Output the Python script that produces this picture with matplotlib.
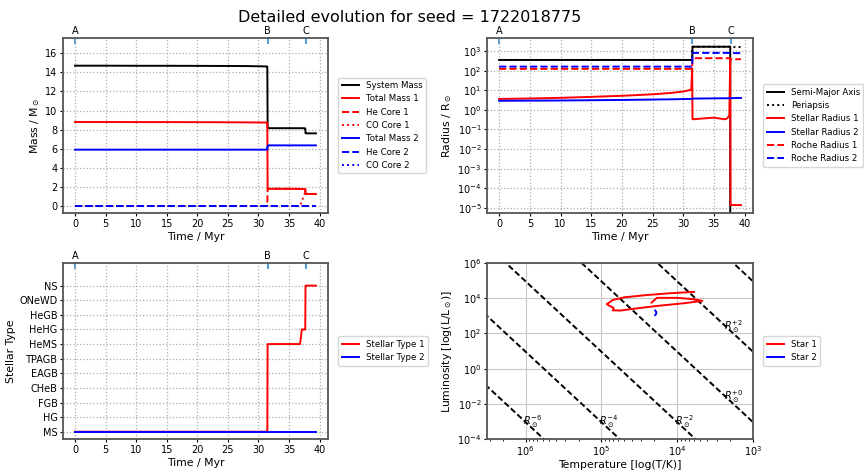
import numpy as np
import matplotlib
matplotlib.use("Agg")
import matplotlib.pyplot as plt

seed = 1722018775
event_times = [0.0, 31.5, 37.7]
event_labels = ["A", "B", "C"]

# shared time samples (Myr)
time = [0, 5, 10, 15, 20, 25, 28, 30, 31.3, 31.45, 31.5, 31.6, 33, 35,
        36.8, 37.1, 37.5, 37.65, 37.7, 37.75, 38.5, 39.4]

system_mass = [14.70, 14.70, 14.69, 14.69, 14.68, 14.67, 14.66, 14.64, 14.62, 14.60, 8.20,
               8.15, 8.15, 8.15, 8.15, 8.15, 8.14, 8.13, 7.62, 7.61, 7.61, 7.61]
mass_1 = [8.80, 8.80, 8.79, 8.79, 8.78, 8.77, 8.76, 8.75, 8.74, 8.72, 1.85,
          1.80, 1.80, 1.80, 1.79, 1.78, 1.77, 1.76, 1.27, 1.26, 1.26, 1.26]
he_core_1 = [0, 0, 0, 0, 0, 0, 0, 0, 0, 0, 1.85,
             1.80, 1.80, 1.80, 1.79, 1.78, 1.77, 1.76, 1.27, 1.26, 1.26, 1.26]
co_core_1 = [0, 0, 0, 0, 0, 0, 0, 0, 0, 0, 0,
             0, 0, 0, 0, 0.5, 1.2, 1.4, 1.27, 1.26, 1.26, 1.26]
mass_2 = [5.90, 5.90, 5.90, 5.90, 5.90, 5.90, 5.90, 5.90, 5.90, 5.91, 6.30,
          6.35, 6.35, 6.35, 6.35, 6.35, 6.35, 6.35, 6.35, 6.35, 6.35, 6.35]
he_core_2 = [0.0] * 22
co_core_2 = [0.0] * 22

semi_major = [350, 350, 350, 350, 350, 350, 350, 350, 350, 350, 1650,
              1650, 1650, 1650, 1650, 1650, 1650, 1650, -1900, -1900, -1900, -1900]
periapsis = [350, 350, 350, 350, 350, 350, 350, 350, 350, 350, 1650,
             1650, 1650, 1650, 1650, 1650, 1650, 1650, 1600, 1600, 1600, 1600]
radius_1 = [3.6, 3.8, 4.1, 4.6, 5.2, 6.2, 7.3, 8.6, 10.5, 130, 0.34,
            0.33, 0.36, 0.40, 0.33, 0.36, 0.5, 420, 1.4e-5, 1.4e-5, 1.4e-5, 1.4e-5]
radius_2 = [2.9, 2.95, 3.0, 3.1, 3.2, 3.35, 3.45, 3.55, 3.6, 3.62, 3.7,
            3.75, 3.8, 3.85, 3.9, 3.9, 3.92, 3.95, 3.95, 3.95, 4.0, 4.05]
roche_1 = [123, 123, 123, 123, 123, 123, 123, 123, 123, 123, 430,
           430, 430, 430, 430, 430, 430, 430, 380, 380, 380, 380]
roche_2 = [160, 160, 160, 160, 160, 160, 160, 160, 160, 160, 800,
           800, 800, 800, 800, 800, 800, 800, 780, 780, 780, 780]

type_names = ["MS", "HG", "FGB", "CHeB", "EAGB", "TPAGB", "HeMS", "HeHG", "HeGB", "ONeWD", "NS"]
stellar_type_1 = [0, 0, 0, 0, 0, 0, 0, 0, 0, 0, 6,
                  6, 6, 6, 6, 7, 7, 7, 10, 10, 10, 10]
stellar_type_2 = [0] * 22

# HR tracks, log10 values
star1_logT = [4.34, 4.30, 4.27, 4.00, 3.80, 3.67, 3.90, 4.27, 4.50, 4.75, 4.85,
              4.84, 4.90, 4.93, 4.85, 4.70, 4.40, 4.10, 3.78]
star1_logL = [3.75, 3.90, 4.02, 4.02, 3.95, 3.85, 3.72, 3.56, 3.44, 3.30, 3.31,
              3.45, 3.58, 3.66, 3.90, 4.05, 4.18, 4.28, 4.36]
star2_logT = [4.292, 4.280, 4.276, 4.280, 4.292]
star2_logL = [3.04, 3.10, 3.17, 3.24, 3.30]
radius_lines = [-6, -4, -2, 0, 2, 4]
radius_labels = [-6, -4, -2, 0, 2]

plt.rcParams.update({
    "font.size": 7,
    "axes.labelsize": 7.8,
    "axes.labelpad": 2.5,
    "xtick.labelsize": 7,
    "ytick.labelsize": 7,
    "xtick.major.size": 2.2,
    "ytick.major.size": 2.2,
    "xtick.minor.size": 1.3,
    "xtick.major.pad": 1.8,
    "ytick.major.pad": 1.8,
    "legend.fontsize": 6.2,
    "axes.linewidth": 1.3,
    "axes.edgecolor": "#555555",
})

fig = plt.figure(figsize=(8.64, 4.71), dpi=100)
ax_mass = fig.add_axes([0.0729, 0.5478, 0.3067, 0.3715])
ax_rad = fig.add_axes([0.5637, 0.5478, 0.3079, 0.3715])
ax_type = fig.add_axes([0.0729, 0.0679, 0.3067, 0.3737])
ax_hr = fig.add_axes([0.5637, 0.0679, 0.3079, 0.3737])

lw = 1.4
legend_anchor = (1.022, 0.5)


def style_grid(ax):
    ax.grid(True, linestyle=":", color="0.68", linewidth=0.9)


def add_events(ax):
    bottom, top = ax.get_ylim()
    ax.set_ylim(bottom, top * 1.1)
    sec = ax.secondary_xaxis("top")
    sec.set_xticks(event_times, labels=event_labels)
    sec.tick_params(axis="x", direction="in", length=4, width=1.5,
                    color="#5aa0d8", labelsize=7, pad=1.5)
    sec.spines["top"].set_visible(False)


# mass panel
ax_mass.plot(time, system_mass, "k-", lw=lw, label="System Mass")
ax_mass.plot(time, mass_1, "r-", lw=lw, label="Total Mass 1")
ax_mass.plot(time, he_core_1, "r--", lw=lw, label="He Core 1")
ax_mass.plot(time, co_core_1, "r:", lw=lw, label="CO Core 1")
ax_mass.plot(time, mass_2, "b-", lw=lw, label="Total Mass 2")
ax_mass.plot(time, he_core_2, "b--", lw=lw, label="He Core 2")
ax_mass.plot(time, co_core_2, "b:", lw=lw, label="CO Core 2")
ax_mass.set_xlabel("Time / Myr")
ax_mass.set_ylabel(r"Mass / M$_\odot$")
ax_mass.set_xticks(np.arange(0, 41, 5))
ax_mass.set_yticks(np.arange(0, 17, 2))
style_grid(ax_mass)
add_events(ax_mass)
ax_mass.legend(loc="center left", bbox_to_anchor=legend_anchor)

# radius panel
ax_rad.set_yscale("log")
ax_rad.plot(time, semi_major, "k-", lw=lw, label="Semi-Major Axis")
ax_rad.plot(time, periapsis, "k:", lw=lw, label="Periapsis")
ax_rad.plot(time, radius_1, "r-", lw=lw, label="Stellar Radius 1")
ax_rad.plot(time, radius_2, "b-", lw=lw, label="Stellar Radius 2")
ax_rad.plot(time, roche_1, "r--", lw=lw, label="Roche Radius 1")
ax_rad.plot(time, roche_2, "b--", lw=lw, label="Roche Radius 2")
ax_rad.set_xlabel("Time / Myr")
ax_rad.set_ylabel(r"Radius / R$_\odot$")
ax_rad.set_xticks(np.arange(0, 41, 5))
ax_rad.set_yticks(10.0 ** np.arange(-5, 4))
ax_rad.minorticks_off()
style_grid(ax_rad)
add_events(ax_rad)
ax_rad.legend(loc="center left", bbox_to_anchor=legend_anchor)

# stellar type panel
ax_type.plot(time, stellar_type_1, "r-", lw=lw, label="Stellar Type 1")
ax_type.plot(time, stellar_type_2, "b-", lw=lw, label="Stellar Type 2")
ax_type.set_xlabel("Time / Myr")
ax_type.set_ylabel("Stellar Type")
ax_type.set_xticks(np.arange(0, 41, 5))
ax_type.set_yticks(range(len(type_names)), labels=type_names)
style_grid(ax_type)
add_events(ax_type)
ax_type.legend(loc="center left", bbox_to_anchor=legend_anchor)

# HR diagram
ax_hr.set_xscale("log")
ax_hr.set_yscale("log")
temps = np.logspace(2.5, 7, 200)
for log_r in radius_lines:
    lum = 10.0 ** (2 * log_r) * (temps / 5772.0) ** 4
    ax_hr.plot(temps, lum, color="k", ls="--", lw=1.4, dashes=(3, 1.5))
for log_r in radius_labels:
    log_t = max(3.26, (-3.4 - 2 * log_r + np.log10(5772.0) * 4) / 4)
    log_l = 2 * log_r + 4 * (log_t - np.log10(5772.0)) + 0.4
    ax_hr.text(10 ** log_t, 10 ** log_l, r"$R_\odot^{%+d}$" % log_r,
               ha="center", va="center", fontsize=7)
ax_hr.plot(10.0 ** np.array(star1_logT), 10.0 ** np.array(star1_logL), "r-", lw=lw, label="Star 1")
ax_hr.plot(10.0 ** np.array(star2_logT), 10.0 ** np.array(star2_logL), "b-", lw=lw, label="Star 2")
ax_hr.set_xlim(10 ** 6.51, 1e3)
ax_hr.set_ylim(1e-4, 1e6)
ax_hr.set_xticks([1e6, 1e5, 1e4, 1e3])
ax_hr.set_yticks(10.0 ** np.arange(-4, 7, 2))
ax_hr.yaxis.set_minor_locator(matplotlib.ticker.NullLocator())
ax_hr.set_xlabel("Temperature [log(T/K)]", labelpad=1)
ax_hr.set_ylabel(r"Luminosity [log(L/L$_\odot$)]")
ax_hr.grid(True, which="major", linestyle="-", color="0.78", linewidth=0.8)
ax_hr.legend(loc="center left", bbox_to_anchor=legend_anchor)

fig.text(0.474, 0.962, "Detailed evolution for seed = %d" % seed,
         ha="center", va="center", fontsize=11.5)

fig.savefig("out.png", dpi=100)
